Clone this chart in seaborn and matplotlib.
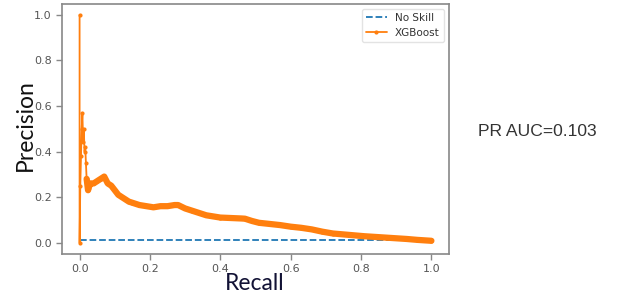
import matplotlib
matplotlib.use("Agg")
import matplotlib.pyplot as plt
import seaborn as sns
import pandas as pd

# no-skill baseline (fraction of positives)
noskill_recall = [0.0, 1.0]
noskill_precision = [0.01, 0.01]

# XGBoost precision-recall curve
recall = [0.0, 0.0, 0.002, 0.004, 0.006, 0.008, 0.010, 0.012, 0.014, 0.016, 0.018,
          0.020, 0.024, 0.03, 0.04, 0.05, 0.06, 0.07, 0.08, 0.09, 0.10, 0.11, 0.12,
          0.13, 0.14, 0.15, 0.17, 0.19, 0.21, 0.23, 0.25, 0.27, 0.28, 0.30, 0.32,
          0.34, 0.36, 0.38, 0.40, 0.43, 0.46, 0.47, 0.49, 0.51, 0.54, 0.57, 0.60,
          0.63, 0.66, 0.69, 0.72, 0.75, 0.78, 0.81, 0.84, 0.87, 0.90, 0.93, 0.96,
          0.98, 1.0]
precision = [1.0, 0.0, 0.25, 0.38, 0.50, 0.57, 0.44, 0.50, 0.40, 0.42, 0.35,
             0.28, 0.23, 0.26, 0.26, 0.27, 0.28, 0.29, 0.26, 0.25, 0.23, 0.21, 0.20,
             0.19, 0.18, 0.175, 0.165, 0.16, 0.155, 0.16, 0.16, 0.165, 0.165, 0.15, 0.14,
             0.13, 0.12, 0.115, 0.11, 0.108, 0.106, 0.105, 0.095, 0.087, 0.082, 0.077, 0.07,
             0.065, 0.058, 0.048, 0.04, 0.036, 0.032, 0.028, 0.025, 0.022, 0.019, 0.016, 0.012,
             0.01, 0.008]
pr_auc = 0.103

xticks = [0.0, 0.2, 0.4, 0.6, 0.8, 1.0]
yticks = [0.0, 0.2, 0.4, 0.6, 0.8, 1.0]

sns.set_style("ticks", {"axes.edgecolor": "#888888", "xtick.color": "#888888",
                        "ytick.color": "#888888"})
plt.rcParams["font.family"] = ["DejaVu Sans"]

fig = plt.figure(figsize=(6.32, 2.98), dpi=100)
ax = fig.add_axes([62 / 632, 44 / 298, 387 / 632, 250.5 / 298])

noskill = pd.DataFrame({"Recall": noskill_recall, "Precision": noskill_precision})
model = pd.DataFrame({"Recall": recall, "Precision": precision})
tail = model[model["Recall"] >= 0.02]

sns.lineplot(data=noskill, x="Recall", y="Precision", ax=ax, color="#1f77b4",
             linestyle="--", linewidth=1.3, label="No Skill")
# dense noisy points make a thick band in the original
sns.lineplot(data=tail, x="Recall", y="Precision", ax=ax, color="#ff7f0e",
             linewidth=4.5, estimator=None, sort=False, legend=False,
             solid_capstyle="round")
sns.lineplot(data=model, x="Recall", y="Precision", ax=ax, color="#ff7f0e",
             linewidth=1.3, marker="o", markersize=3, markeredgewidth=0,
             estimator=None, sort=False, label="XGBoost")

ax.set_xlim(-0.05, 1.05)
ax.set_ylim(-0.05, 1.05)
ax.set_xticks(xticks)
ax.set_yticks(yticks)
ax.set_xticklabels([f"{t:.1f}" for t in xticks])
ax.set_yticklabels([f"{t:.1f}" for t in yticks])
ax.tick_params(labelsize=8, labelcolor="#555555", length=4, width=1)
for s in ax.spines.values():
    s.set_linewidth(1.2)
ax.set_xlabel("")
ax.set_ylabel("")

leg = ax.legend(loc="upper right", fontsize=7.5, frameon=True, fancybox=True,
                framealpha=0.8, edgecolor="#dddddd")
for t in leg.get_texts():
    t.set_color("#333333")

fig.text(25 / 632, 1 - 125 / 298, "Precision", rotation=90, ha="center", va="center",
         fontsize=16.5, family="Lato", color="#111111")
fig.text(255 / 632, 1 - 283 / 298, "Recall", ha="center", va="center",
         fontsize=16.5, family="Lato", color="#121235")
fig.text(537 / 632, 1 - 132 / 298, f"PR AUC={pr_auc}", ha="center", va="center",
         fontsize=12.6, family="Liberation Sans", color="#333333")

fig.savefig("out.png", dpi=100)
